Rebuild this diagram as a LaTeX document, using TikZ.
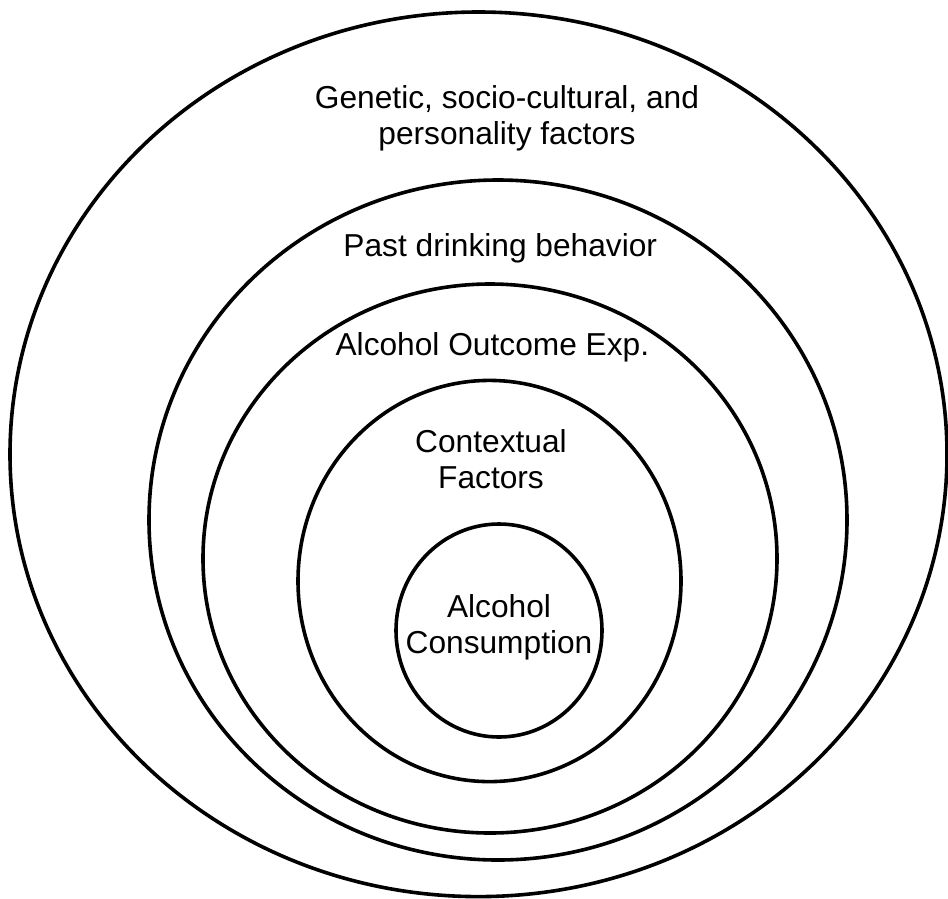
\documentclass[tikz,border=0pt]{standalone}
\usepackage{fontspec}
\setmainfont{Liberation Sans}
\begin{document}
\begin{tikzpicture}[x=1pt,y=-1pt,
  ring/.style={draw=black,line width=3.6pt},
  lbl/.style={font=\fontsize{31.7}{36}\selectfont,align=center,anchor=base,inner sep=0pt}]
\useasboundingbox[fill=white] (0,0) rectangle (948,898);
\coordinate (c1) at (478.5,454.3);
\coordinate (c2) at (498,520);
\coordinate (c3) at (490,558.5);
\coordinate (c4) at (489.5,581);
\coordinate (c5) at (499,630.5);
\draw[ring] (c1) ellipse [x radius=468.5, y radius=442.3];
\draw[ring] (c2) ellipse [x radius=349, y radius=340];
\draw[ring] (c3) ellipse [x radius=287, y radius=274.5];
\draw[ring] (c4) ellipse [x radius=191.5, y radius=200.6];
\draw[ring] (c5) ellipse [x radius=103, y radius=106.5];
\node[lbl] (t1) at (507,144) {Genetic, socio-cultural, and\\personality factors};
\node[lbl] (t2) at (500.3,256.7) {Past drinking behavior};
\node[lbl] (t3) at (492.4,355) {Alcohol Outcome Exp.};
\node[lbl] (t4) at (491,488) {Contextual\\Factors};
\node[lbl] (t5) at (499,653.3) {Alcohol\\Consumption};
\end{tikzpicture}
\end{document}
